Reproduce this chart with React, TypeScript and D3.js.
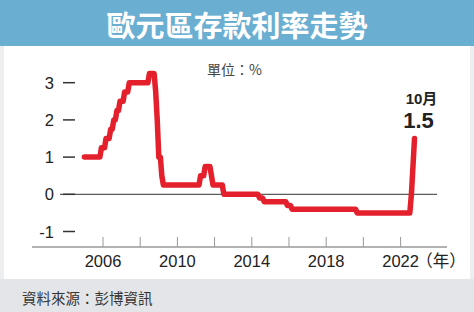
import React from "react";
import * as d3 from "d3";

const months: string[] = [
  "2005-01", "2005-11", "2005-12", "2006-02", "2006-03", "2006-05", "2006-06", "2006-07",
  "2006-08", "2006-09", "2006-10", "2006-11", "2006-12", "2007-02", "2007-03", "2007-05",
  "2007-06", "2008-06", "2008-07", "2008-10", "2008-11", "2008-12", "2009-01", "2009-02",
  "2009-03", "2009-04", "2011-03", "2011-04", "2011-06", "2011-07", "2011-10", "2011-11",
  "2011-12", "2012-06", "2012-07", "2014-05", "2014-06", "2014-08", "2014-09", "2015-11",
  "2015-12", "2016-02", "2016-03", "2019-08", "2019-09", "2022-06", "2022-07", "2022-08",
  "2022-09", "2022-10",
];
const rates: number[] = [
  1.0, 1.0, 1.25, 1.25, 1.5, 1.5, 1.75, 1.75,
  2.0, 2.0, 2.25, 2.25, 2.5, 2.5, 2.75, 2.75,
  3.0, 3.0, 3.25, 3.25, 2.75, 2.0, 1.0, 1.0,
  0.5, 0.25, 0.25, 0.5, 0.5, 0.75, 0.75, 0.5,
  0.25, 0.25, 0.0, 0.0, -0.1, -0.1, -0.2, -0.2,
  -0.3, -0.3, -0.4, -0.4, -0.5, -0.5, -0.5, 0.0,
  0.75, 1.5,
];
const yTicks: number[] = [3, 2, 1, 0, -1];
const xTickYears: number[] = [2006, 2008, 2010, 2012, 2014, 2016, 2018, 2020, 2022];
const xLabelYears: number[] = [2006, 2010, 2014, 2018, 2022];

const title = "歐元區存款利率走勢";
const unitLabel = "單位：%";
const source = "資料來源：彭博資訊";
const lastMonthLabel = "10月";
const lastValueLabel = "1.5";
const yearSuffix = "（年）";

const W = 474;
const H = 312;
const FONT = "'Liberation Sans', Arial, 'Noto Sans CJK TC', sans-serif";
const CJK = "'Noto Sans CJK TC', 'Liberation Sans', sans-serif";

export default function App() {
  const parse = d3.timeParse("%Y-%m");
  const data = months.map((m, i) => ({ date: parse(m) as Date, v: rates[i] }));
  const x = d3
    .scaleTime()
    .domain([new Date(2006, 0, 1), new Date(2022, 0, 1)])
    .range([103, 400.6]);
  const y = d3.scaleLinear().domain([-1, 3]).range([231.5, 82.7]);
  const line = d3
    .line<{ date: Date; v: number }>()
    .x((d) => x(d.date))
    .y((d) => y(d.v));
  const last = data[data.length - 1];
  const lx = x(last.date);
  const ly = y(last.v);

  return (
    <svg
      width={W}
      height={H}
      style={{ position: "absolute", left: 0, top: 0, display: "block" }}
    >
      <rect x={0} y={0} width={W} height={H} fill="#eceef0" />
      <rect x={4} y={46} width={W - 8} height={233} fill="#ffffff" />
      <rect x={0} y={0} width={W} height={46} fill="#6aaed2" />
      <text
        x={W / 2}
        y={24}
        textAnchor="middle"
        dominantBaseline="central"
        fill="#ffffff"
        fontWeight="bold"
        fontSize={29}
        fontFamily={CJK}
      >
        {title}
      </text>
      <rect x={0} y={279} width={W} height={H - 279} fill="#e3e5e8" />
      <text
        x={22}
        y={297}
        dominantBaseline="central"
        fill="#333"
        fontSize={14.5}
        fontFamily={CJK}
      >
        {source}
      </text>

      <text x={207} y={69} dominantBaseline="central" fill="#444" fontSize={14} fontFamily={CJK}>
        {unitLabel}
      </text>

      {yTicks.map((t) => (
        <g key={t}>
          <text
            x={54}
            y={y(t)}
            textAnchor="end"
            dominantBaseline="central"
            fill="#222"
            fontSize={16.5}
            fontFamily={FONT}
          >
            {t}
          </text>
          <line x1={63} x2={75} y1={y(t)} y2={y(t)} stroke="#333" strokeWidth={1.5} />
        </g>
      ))}

      <line x1={60} x2={437} y1={y(0)} y2={y(0)} stroke="#333" strokeWidth={1} />

      <line x1={32} x2={447} y1={247} y2={247} stroke="#999" strokeWidth={1.5} />
      {xTickYears.map((yr) => {
        const tx = x(new Date(yr, 0, 1));
        return <line key={yr} x1={tx} x2={tx} y1={237} y2={247} stroke="#999" strokeWidth={1} />;
      })}
      {xLabelYears.map((yr) => (
        <text
          key={yr}
          x={x(new Date(yr, 0, 1))}
          y={267}
          textAnchor="middle"
          fill="#222"
          fontSize={16.5}
          fontFamily={FONT}
        >
          {yr}
        </text>
      ))}
      <text x={441} y={267} textAnchor="middle" fill="#222" fontSize={16.5} fontFamily={CJK}>
        {yearSuffix}
      </text>

      <path
        d={line(data) || ""}
        fill="none"
        stroke="#e3202c"
        strokeWidth={5.5}
        strokeLinejoin="round"
        strokeLinecap="round"
      />

      <text
        x={lx + 7}
        y={ly - 40}
        textAnchor="middle"
        dominantBaseline="central"
        fill="#222"
        fontWeight="bold"
        fontSize={15}
        fontFamily={FONT}
      >
        {lastMonthLabel}
      </text>
      <text
        x={lx + 4}
        y={ly - 11}
        textAnchor="middle"
        fill="#222"
        fontWeight="bold"
        fontSize={22}
        fontFamily={FONT}
      >
        {lastValueLabel}
      </text>
    </svg>
  );
}
